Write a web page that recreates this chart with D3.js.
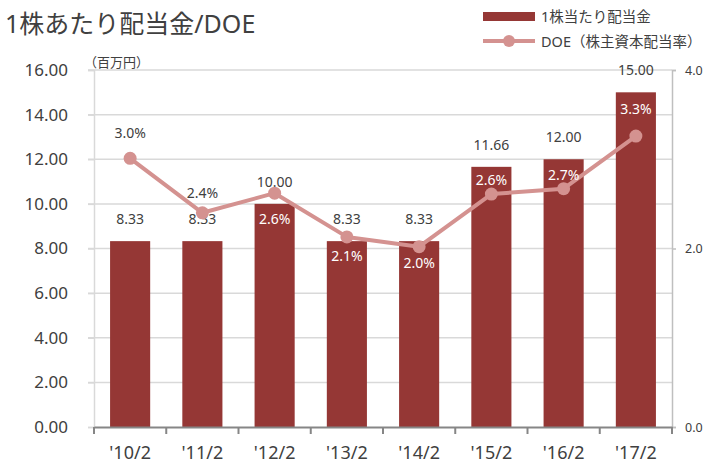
<!DOCTYPE html>
<html><head><meta charset="utf-8">
<script src="https://cdn.jsdelivr.net/npm/d3@7"></script>
<style>
body{margin:0;background:#fff;}
text{font-family:"Noto Sans","Noto Sans CJK JP",sans-serif;}
</style></head>
<body><svg id="c" width="703" height="466"></svg>
<script>
const categories = ["'10/2","'11/2","'12/2","'13/2","'14/2","'15/2","'16/2","'17/2"];
const dividend = [8.33, 8.33, 10.00, 8.33, 8.33, 11.66, 12.00, 15.00];
const doe = [3.01, 2.40, 2.62, 2.13, 2.02, 2.61, 2.67, 3.26];
const leftTicks = [0,2,4,6,8,10,12,14,16];
const rightTicks = [0,2,4];
const title = "1株あたり配当金/DOE";
const unitLabel = "（百万円）";
const legendBar = "1株当たり配当金";
const legendLine = "DOE（株主資本配当率）";
// label vertical offsets (px) for DOE labels relative to point
const doeLabelDy = [-25,-20,26,19,16,-14,-14,-27];

const barColor = "#953735", lineColor = "#d49290", textColor = "#404040";
const svg = d3.select("#c");
const x0 = 94, x1 = 672, yTop = 70, yBot = 427;

const x = d3.scaleBand().domain(categories).range([x0,x1]).paddingInner(0.445).paddingOuter(0.2225);
const y = d3.scaleLinear().domain([0,16]).range([yBot,yTop]);
const y2 = d3.scaleLinear().domain([0,4]).range([yBot,yTop]);

// title
svg.append("text").attr("x",5).attr("y",33).attr("font-size",25).attr("fill",textColor).text(title);
svg.append("text").attr("x",84).attr("y",67).attr("font-size",13).attr("fill",textColor).text(unitLabel);

// gridlines
svg.append("g").selectAll("line").data(leftTicks.filter(d=>d>0)).join("line")
  .attr("x1",x0-6).attr("x2",x1).attr("y1",d=>y(d)).attr("y2",d=>y(d))
  .attr("stroke","#d9d9d9").attr("stroke-width",1.5);

// left axis
const la = svg.append("g").attr("transform",`translate(${x0},0)`)
  .call(d3.axisLeft(y).tickValues(leftTicks).tickFormat(d3.format(".2f")).tickSize(6).tickPadding(20));
la.select(".domain").attr("stroke","#d9d9d9").attr("stroke-width",1.5);
la.selectAll(".tick line").attr("stroke","#d9d9d9").attr("stroke-width",1.5);
la.selectAll("text").attr("font-size",17).attr("fill",textColor).attr("font-family",'"Noto Sans",sans-serif');

// right axis
const ra = svg.append("g").attr("transform",`translate(${x1},0)`)
  .call(d3.axisRight(y2).tickValues(rightTicks).tickFormat(d3.format(".1f")).tickSize(4).tickPadding(9));
ra.select(".domain").attr("stroke","#bfbfbf").attr("stroke-width",1.5);
ra.selectAll(".tick line").attr("stroke","#bfbfbf").attr("stroke-width",1.5);
ra.selectAll("text").attr("font-size",12.5).attr("fill",textColor).attr("font-family",'"Noto Sans",sans-serif');

// bars
svg.append("g").selectAll("rect").data(dividend).join("rect")
  .attr("x",(d,i)=>x(categories[i])).attr("width",x.bandwidth())
  .attr("y",d=>y(d)).attr("height",d=>yBot-y(d)).attr("fill",barColor);

// bottom axis
const ba = svg.append("g").attr("transform",`translate(0,${yBot})`)
  .call(d3.axisBottom(x).tickSize(0).tickPadding(19));
ba.select(".domain").attr("stroke","#868686").attr("stroke-width",2);
ba.selectAll("text").attr("font-size",18).attr("fill",textColor).attr("font-family",'"Noto Sans",sans-serif');
svg.append("g").selectAll("line").data(d3.range(categories.length+1)).join("line")
  .attr("x1",i=>x0+i*(x1-x0)/categories.length).attr("x2",i=>x0+i*(x1-x0)/categories.length)
  .attr("y1",yBot).attr("y2",yBot+7).attr("stroke","#868686").attr("stroke-width",2);

// bar value labels
svg.append("g").selectAll("text").data(dividend).join("text")
  .attr("x",(d,i)=>x(categories[i])+x.bandwidth()/2).attr("y",d=>y(d)-17)
  .attr("text-anchor","middle").attr("font-size",14).attr("fill",textColor)
  .text(d=>d3.format(".2f")(d));

// line
const cx = i=>x(categories[i])+x.bandwidth()/2;
svg.append("path").datum(doe)
  .attr("d",d3.line().x((d,i)=>cx(i)).y(d=>y2(d)))
  .attr("fill","none").attr("stroke",lineColor).attr("stroke-width",4).attr("stroke-linejoin","round");
svg.append("g").selectAll("circle").data(doe).join("circle")
  .attr("cx",(d,i)=>cx(i)).attr("cy",d=>y2(d)).attr("r",6.5).attr("fill",lineColor);

// DOE labels
svg.append("g").selectAll("text").data(doe).join("text")
  .attr("x",(d,i)=>cx(i)).attr("y",(d,i)=>y2(d)+doeLabelDy[i]+5)
  .attr("text-anchor","middle").attr("font-size",14)
  .attr("fill",(d,i)=> (y2(d)+doeLabelDy[i]-7 > y(dividend[i])) ? "#ffffff" : textColor)
  .text(d=>d3.format(".1f")(d)+"%");

// legend
svg.append("rect").attr("x",483).attr("y",12).attr("width",52).attr("height",9).attr("fill",barColor);
svg.append("text").attr("x",541).attr("y",22).attr("font-size",14.5).attr("fill",textColor).text(legendBar);
svg.append("line").attr("x1",483).attr("x2",535).attr("y1",41).attr("y2",41).attr("stroke",lineColor).attr("stroke-width",4);
svg.append("circle").attr("cx",509).attr("cy",41).attr("r",6).attr("fill",lineColor);
svg.append("text").attr("x",541).attr("y",46.5).attr("font-size",14.5).attr("fill",textColor).text(legendLine);
</script></body></html>
